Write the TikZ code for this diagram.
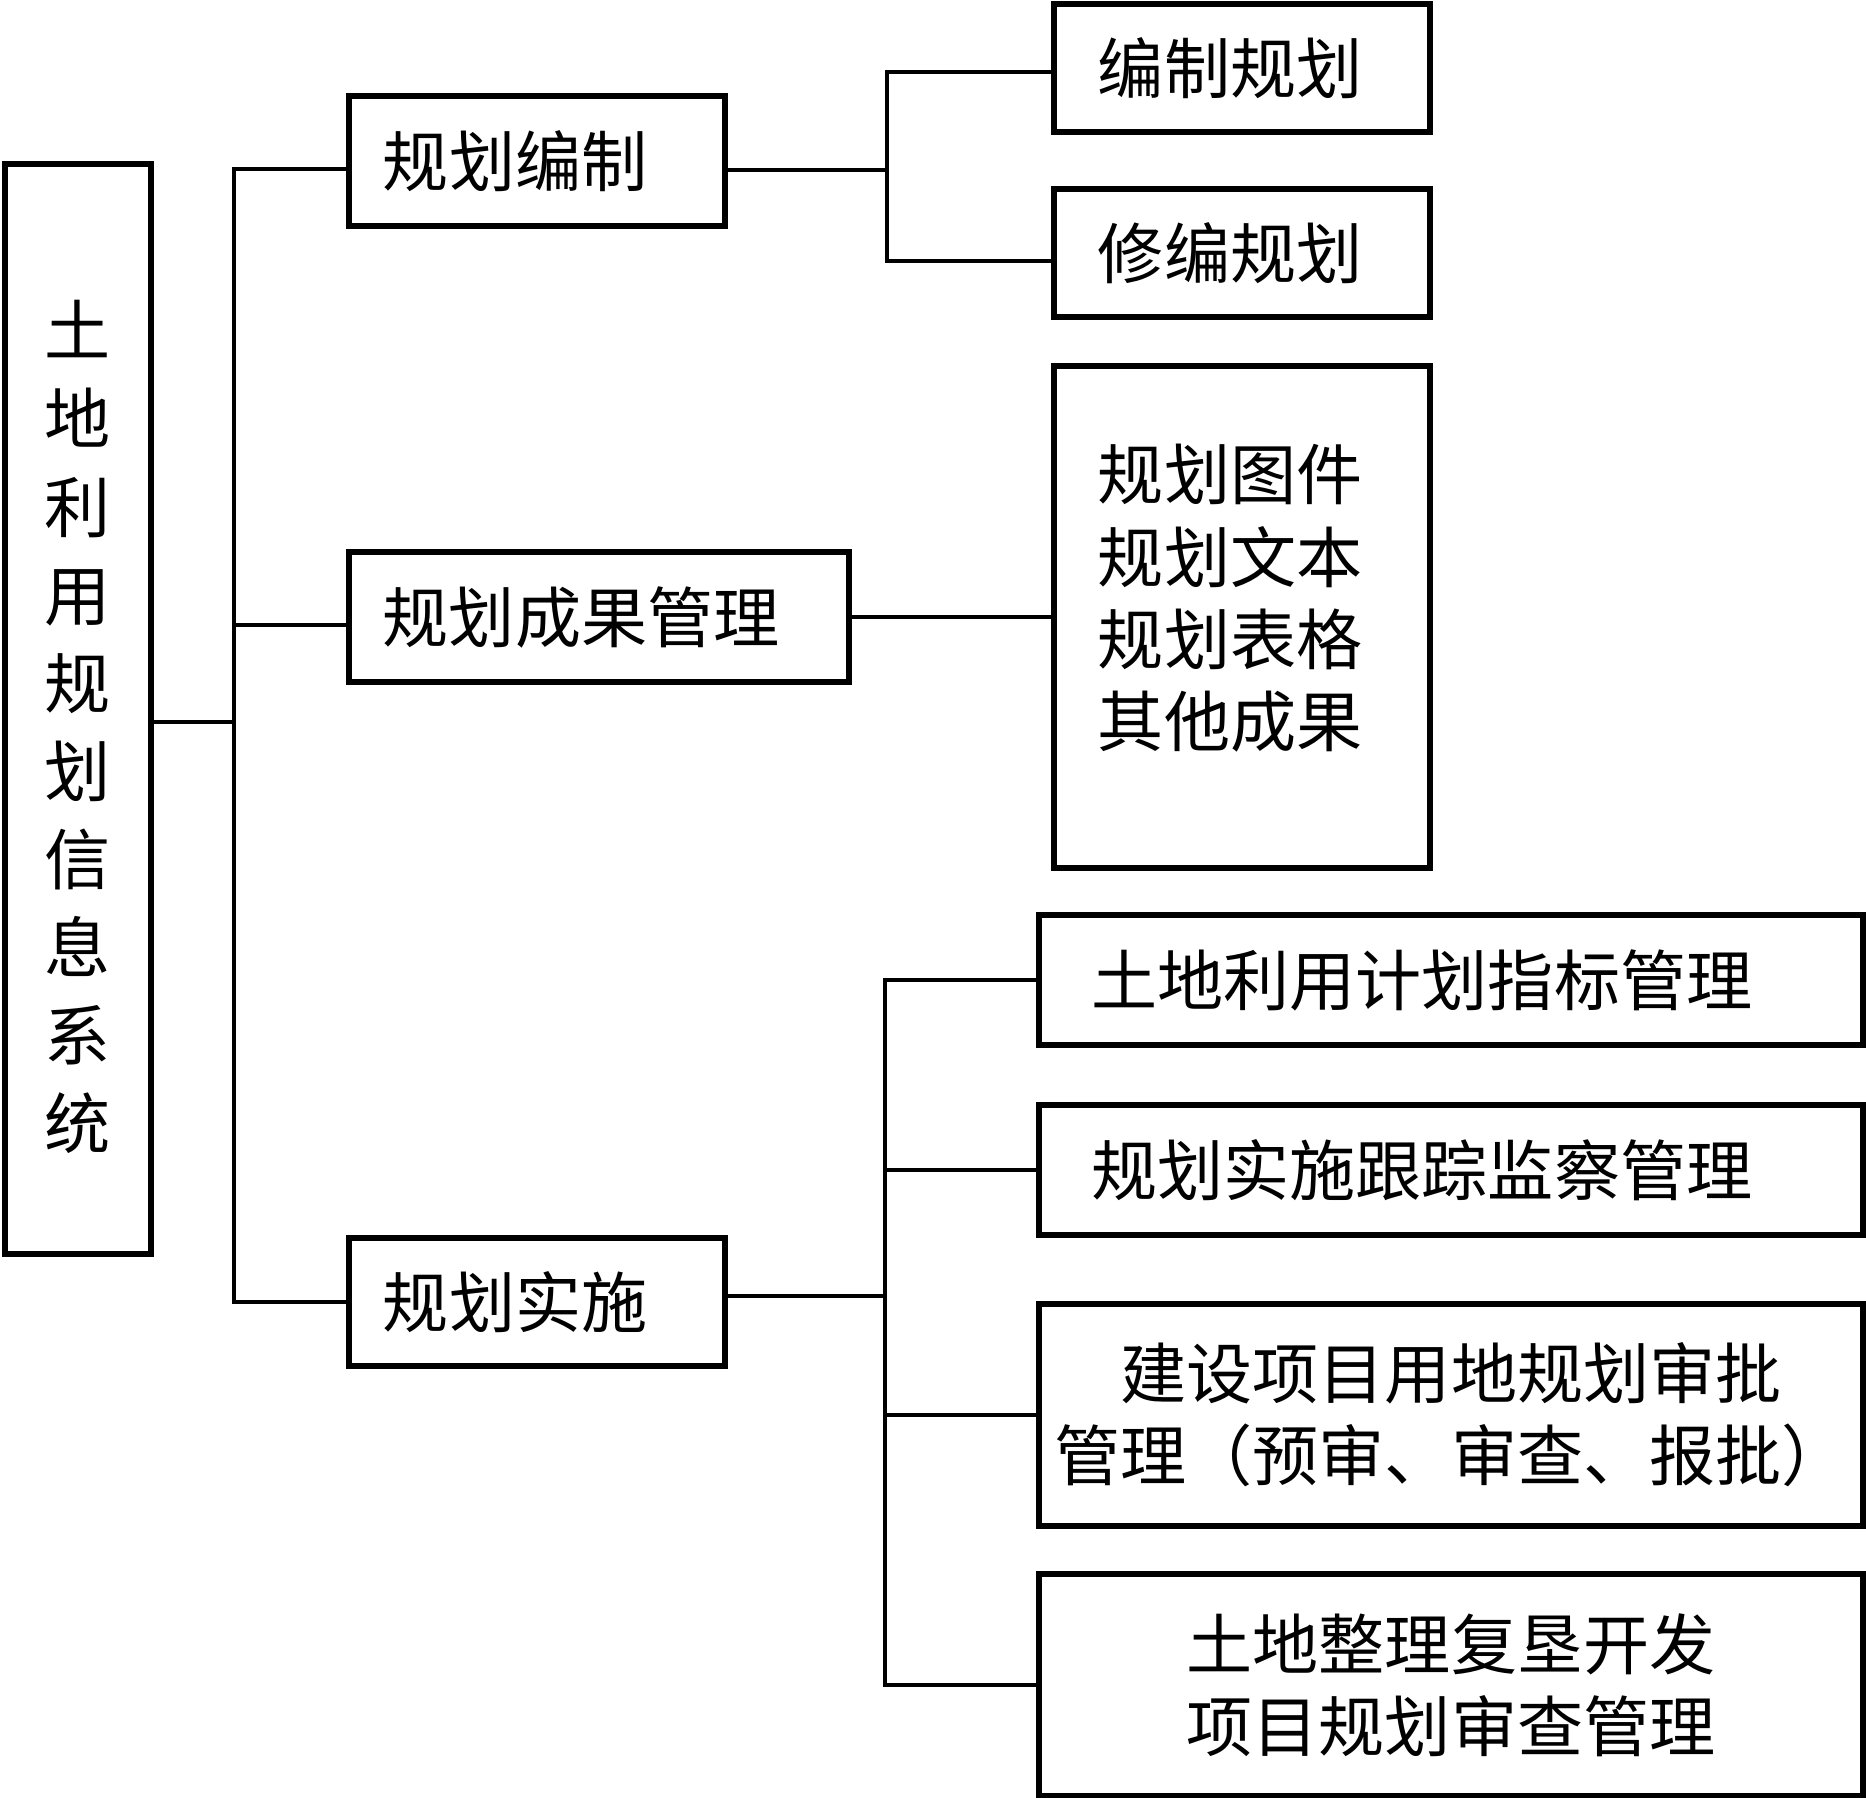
\documentclass[tikz,border=0pt]{standalone}
\usepackage{fontspec}
\setmainfont{Noto Sans CJK SC}

\begin{document}
\begin{tikzpicture}[x=0.01cm,y=-0.01cm,
	box/.style={draw,line width=1.7pt,inner sep=0pt,font=\fontsize{18.8pt}{0.82cm}\selectfont},
	lbox/.style={box,align=left,text width=#1},
	link/.style={line width=1pt}]
			\useasboundingbox (0,0) rectangle (1866,1798);
			\node[box,minimum width=1.45cm,minimum height=10.9cm,align=center,font=\fontsize{18.8pt}{0.88cm}\selectfont] (sys) at (78,709) {\raisebox{0.36cm}{\vphantom{土}}土\\地\\利\\用\\规\\划\\信\\息\\系\\统};
			\node[lbox=3.08cm,inner xsep=0.34cm,minimum height=1.29cm] (bz) at (537,161) {规划编制};
			\node[lbox=4.32cm,inner xsep=0.34cm,minimum height=1.29cm] (cg) at (599,617) {规划成果管理};
			\node[lbox=3.08cm,inner xsep=0.34cm,minimum height=1.28cm] (ss) at (537,1302) {规划实施};
			\node[lbox=2.88cm,inner xsep=0.44cm,minimum height=1.27cm] (e1) at (1242,68) {编制规划};
			\node[lbox=2.88cm,inner xsep=0.44cm,minimum height=1.28cm] (e2) at (1242,253) {修编规划};
			\node[lbox=2.88cm,inner xsep=0.44cm,minimum height=5.01cm] (cgx) at (1242,617) {规划图件\\规划文本\\规划表格\\其他成果\raisebox{-0.38cm}{\vphantom{果}}};
			\node[lbox=7.19cm,inner xsep=0.52cm,minimum height=1.29cm] (p1) at (1451,980) {土地利用计划指标管理};
			\node[lbox=7.19cm,inner xsep=0.52cm,minimum height=1.29cm] (p2) at (1451,1170) {规划实施跟踪监察管理};
			\node[box,minimum width=8.23cm,minimum height=2.22cm,align=center] (p3) at (1451,1415) {建设项目用地规划审批\\管理（预审、审查、报批）};
			\node[box,minimum width=8.23cm,minimum height=2.21cm,align=center] (p4) at (1451,1685) {土地整理复垦开发\\项目规划审查管理};
			% junctions
			\coordinate (j0) at (234,722);
			\coordinate (j1) at (887,170);
			\coordinate (j2) at (885,1296);
			\coordinate (c0) at ([yshift=-0.08cm]cg.west);
			\draw[link] (sys.east |- j0) -- (j0);
			\draw[link] ([yshift=-0.08cm]bz.west) -| (j0) |- (ss.west);
			\draw[link] (c0) -- (c0 -| j0);
			\draw[link] (bz.east |- j1) -- (j1);
			\draw[link] ([yshift=-0.04cm]e1.west) -| (j1) |- ([yshift=-0.08cm]e2.west);
			\draw[link] (cg.east) -- (cgx.west);
			\draw[link] (ss.east |- j2) -- (j2);
			\draw[link] (p1.west) -| (j2) |- (p4.west);
			\foreach \n in {p2,p3}
				\draw[link] (\n.west) -- (\n.west -| j2);
		\end{tikzpicture}
\end{document}
